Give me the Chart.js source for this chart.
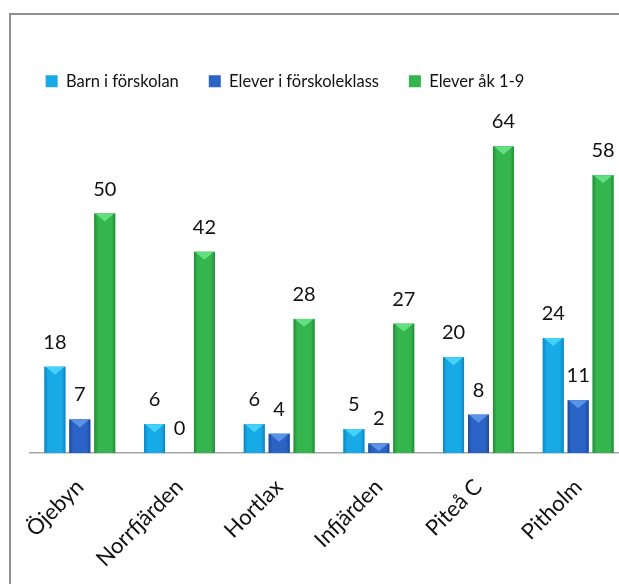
<!DOCTYPE html>
<html>
<head>
<meta charset="utf-8">
<script src="https://cdn.jsdelivr.net/npm/chart.js@4.4.1/dist/chart.umd.min.js"></script>
<style>
  html, body { margin: 0; padding: 0; background: #fff; overflow: hidden; width: 619px; height: 584px; }
  #frame { position: absolute; left: 9px; top: 13px; width: 660px; height: 620px; border: 2px solid #8f8f8f; box-sizing: border-box; }
  #schoolChart { position: absolute; left: 0; top: 0; }
</style>
</head>
<body>
<div id="frame"></div>
<canvas id="schoolChart" width="660" height="584"></canvas>
<script>
var labelsSchools = ["Öjebyn", "Norrfjärden", "Hortlax", "Infjärden", "Piteå C", "Pitholm"];
var dataForskolan = [18, 6, 6, 5, 20, 24];
var dataForskoleklass = [7, 0, 4, 2, 8, 11];
var dataAk19 = [50, 42, 28, 27, 64, 58];

// main colour, edge colour, top bevel colour
var barColors = [
  ["#17aae6", "#0c86c0", "#46d2f8"],
  ["#2b64c6", "#1b4a9c", "#5b93e6"],
  ["#35b54e", "#238c38", "#62e07f"]
];

var bevelBars = {
  id: "bevelBars",
  afterDatasetDraw: function(chart, args) {
    var ctx = chart.ctx;
    var c = barColors[args.index];
    args.meta.data.forEach(function(bar) {
      var p = bar.getProps(["x", "y", "base", "width"], true);
      var l = p.x - p.width / 2, r = p.x + p.width / 2;
      var h = p.base - p.y;
      if (h <= 0) return;
      ctx.save();
      var g = ctx.createLinearGradient(l, 0, r, 0);
      g.addColorStop(0, c[1]);
      g.addColorStop(0.18, c[0]);
      g.addColorStop(0.82, c[0]);
      g.addColorStop(1, c[1]);
      ctx.fillStyle = g;
      ctx.fillRect(l, p.y, p.width, h);
      var t = Math.min(h, p.width * 0.38);
      ctx.beginPath();
      ctx.moveTo(l + 1, p.y);
      ctx.lineTo(r - 1, p.y);
      ctx.lineTo(p.x, p.y + t);
      ctx.closePath();
      ctx.fillStyle = c[2];
      ctx.fill();
      ctx.restore();
    });
  }
};

var valueLabels = {
  id: "valueLabels",
  afterDatasetsDraw: function(chart) {
    var ctx = chart.ctx;
    ctx.save();
    ctx.font = "20px Lato";
    ctx.fillStyle = "#111";
    ctx.textAlign = "center";
    ctx.textBaseline = "alphabetic";
    chart.data.datasets.forEach(function(ds, i) {
      chart.getDatasetMeta(i).data.forEach(function(bar, j) {
        var p = bar.getProps(["x", "y"], true);
        ctx.fillText(ds.data[j], p.x, p.y - 18);
      });
    });
    ctx.restore();
  }
};

// the legend sits left of centre in the original
var shiftLegend = {
  id: "shiftLegend",
  afterLayout: function(chart) {
    chart.legend.left -= 44;
    chart.legend.right -= 44;
  }
};

const dataSchools = {
  labels: labelsSchools,
  datasets: [
    { label: "Barn i förskolan", data: dataForskolan, backgroundColor: barColors[0][0] },
    { label: "Elever i förskoleklass", data: dataForskoleklass, backgroundColor: barColors[1][0] },
    { label: "Elever åk 1-9", data: dataAk19, backgroundColor: barColors[2][0] }
  ]
};

const configSchools = {
  type: "bar",
  data: dataSchools,
  options: {
    responsive: false,
    animation: false,
    categoryPercentage: 0.75,
    barPercentage: 0.84,
    layout: { padding: { left: 30, right: 32, top: 43, bottom: 0 } },
    plugins: {
      legend: {
        display: true,
        position: "top",
        labels: {
          boxWidth: 12,
          boxHeight: 12,
          padding: 30,
          color: "#111",
          font: { family: "Lato", size: 16.5 }
        }
      },
      tooltip: { enabled: false }
    },
    scales: {
      x: {
        grid: { display: false, drawTicks: false },
        border: { display: true, color: "#a6a6a6", width: 1.5 },
        ticks: {
          minRotation: 45,
          maxRotation: 45,
          padding: 21,
          color: "#111",
          font: { family: "Lato", size: 22 }
        },
        afterFit: function(scale) {
          scale.paddingLeft = 0;
          scale.paddingRight = 0;
          scale.height = 131;
        }
      },
      y: {
        display: false,
        min: 0,
        max: 73.8
      }
    }
  },
  plugins: [bevelBars, valueLabels, shiftLegend]
};

var schoolChart = new Chart(document.getElementById("schoolChart"), configSchools);
</script>
</body>
</html>
